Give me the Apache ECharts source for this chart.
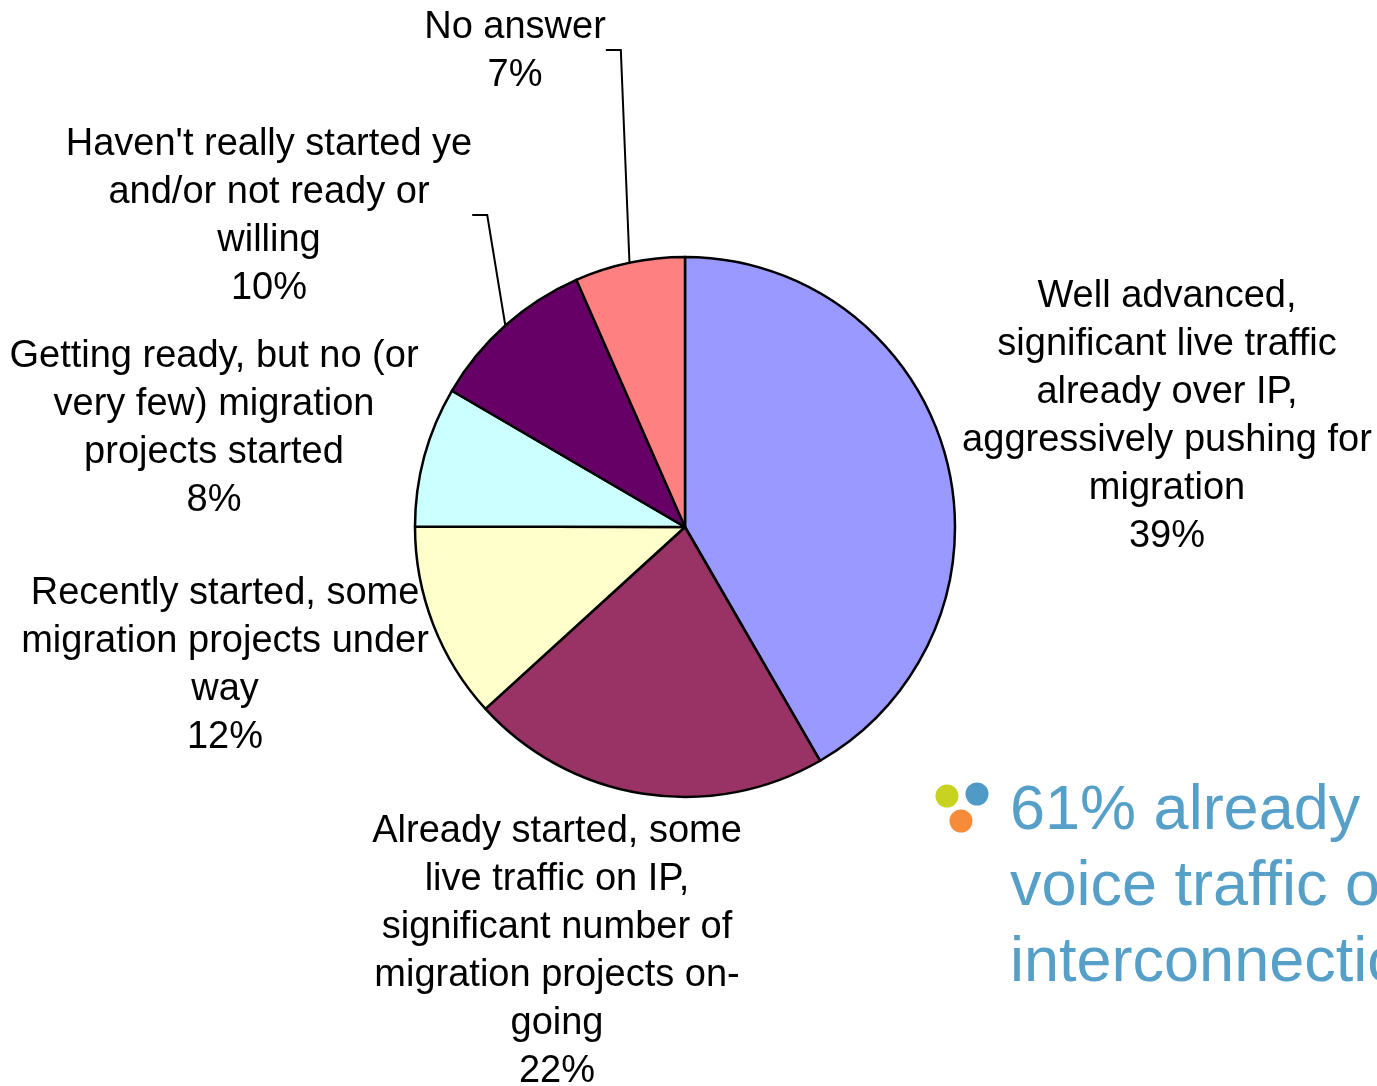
<!DOCTYPE html>
<html>
<head>
<meta charset="utf-8">
<script src="https://cdn.jsdelivr.net/npm/echarts@6/dist/echarts.min.js"></script>
<style>
  html, body { margin: 0; padding: 0; background: #fff; }
  #main { width: 1377px; height: 1086px; }
</style>
</head>
<body>
<div id="main"></div>
<script>
// slices clockwise from 12 o'clock
var categories = [
  'Well advanced,\nsignificant live traffic\nalready over IP,\naggressively pushing for\nmigration',
  'Already started, some\nlive traffic on IP,\nsignificant number of\nmigration projects on-\ngoing',
  'Recently started, some\nmigration projects under\nway',
  'Getting ready, but no (or\nvery few) migration\nprojects started',
  'Haven\'t really started ye\nand/or not ready or\nwilling',
  'No answer'
]
// slice sizes as drawn (share of the circle, %)
var shares = [41.7, 21.6, 11.8, 8.4, 10.0, 6.6]
// percentages printed in the labels
var percentLabels = ['39%', '22%', '12%', '8%', '10%', '7%']
var colors = ['#9999FF', '#993366', '#FFFFCC', '#CCFFFF', '#660066', '#FF8080']

// label block centres (layout only)
var labelPos = [
  [1167, 417],
  [557, 952],
  [225, 666],
  [214, 429],
  [269, 217],
  [515, 52]
]
var withLeader = [false, false, false, false, true, true]

var chart = echarts.init(document.getElementById('main'))

chart.setOption({
  animation: false,
  backgroundColor: '#ffffff',
  textStyle: { fontFamily: '"Liberation Sans", Arial, sans-serif' },
  graphic: [
    { type: 'circle', shape: { cx: 947, cy: 796, r: 11.5 }, style: { fill: '#C8D321' } },
    { type: 'circle', shape: { cx: 977, cy: 794, r: 11.5 }, style: { fill: '#4F9AC6' } },
    { type: 'circle', shape: { cx: 961, cy: 821, r: 11.5 }, style: { fill: '#F68B3A' } },
    {
      type: 'text',
      left: 1010,
      top: 774,
      style: {
        text: '61% already\nvoice traffic over\ninterconnection',
        font: '63px "Liberation Sans", Arial, sans-serif',
        lineHeight: 76,
        fill: '#559FC8'
      }
    }
  ],
  series: [{
    type: 'pie',
    center: [685, 527],
    radius: 270,
    startAngle: 90,
    clockwise: true,
    avoidLabelOverlap: false,
    itemStyle: {
      borderColor: '#000',
      borderWidth: 2.5
    },
    label: {
      show: true,
      color: '#000',
      fontSize: 38,
      lineHeight: 48,
      align: 'center',
      fontFamily: '"Liberation Sans", Arial, sans-serif',
      formatter: function(p) {
        return p.name + '\n' + percentLabels[p.dataIndex]
      }
    },
    labelLine: {
      show: false,
      length: 20,
      length2: 15,
      lineStyle: { color: '#000', width: 2 }
    },
    labelLayout: function(params) {
      var i = params.dataIndex
      var pos = labelPos[i]
      var res = {
        x: pos[0],
        y: pos[1],
        align: 'center',
        verticalAlign: 'middle'
      }
      if (withLeader[i] && params.labelLinePoints) {
        var start = params.labelLinePoints[0]
        var right = pos[0] + params.labelRect.width / 2
        res.labelLinePoints = [
          [start[0], start[1]],
          [right + 15, pos[1] - 2],
          [right, pos[1] - 2]
        ]
      }
      return res
    },
    data: categories.map(function(name, i) {
      return {
        name: name,
        value: shares[i],
        itemStyle: { color: colors[i] },
        labelLine: { show: withLeader[i] }
      }
    })
  }]
})
</script>
</body>
</html>
